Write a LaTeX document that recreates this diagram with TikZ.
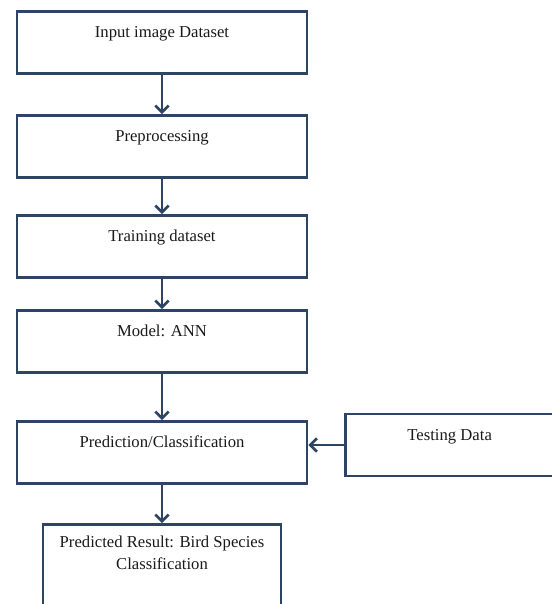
\documentclass[tikz,border=0pt]{standalone}
\usepackage{fontspec}
\setmainfont{Liberation Serif}
\usepackage{xcolor}
\usepackage{tikz}
\usetikzlibrary{arrows.meta,positioning}
\definecolor{boxblue}{RGB}{46,68,100}

\begin{document}
\begin{tikzpicture}[x=0.75pt, y=-0.75pt, auto]
    \tikzstyle{block} = [rectangle, draw=boxblue, line width=2pt, minimum width=217.5pt, minimum height=46.5pt, inner sep=4pt, text height=15.5pt, text depth=23pt, font=\fontsize{12.5}{16.5}\selectfont, text=black!90, align=center]
    \tikzstyle{arrow} = [draw=boxblue, line width=2pt, -{Straight Barb[length=5pt,width=10pt]}]

    \path [use as bounding box, clip] (0,0) rectangle (552,604);

    \node [block] (input) at (162,42.5) {Input image Dataset};
    \node [block, below=29.5pt of input] (prep) {Preprocessing};
    \node [block, below=26.5pt of prep] (train) {Training dataset};
    \node [block, below=22.75pt of train] (model) {Model: ANN};
    \node [block, below=34.75pt of model] (pred) {Prediction/Classification};
    \node [block, minimum width=156pt, right=27pt of pred, yshift=5.6pt] (test) {Testing Data};
    \node [block, minimum width=178.5pt, minimum height=90pt, text height=29.75pt, text depth=52.25pt, below=28.75pt of pred] (result) {Predicted Result: Bird Species\\Classification};

    \draw [arrow] (input) -- (prep);
    \draw [arrow] (prep) -- (train);
    \draw [arrow] (train) -- (model);
    \draw [arrow] (model) -- (pred);
    \draw [arrow] (test.west) -- (pred.east |- test.west);
    \draw [arrow] (pred) -- (result);

\end{tikzpicture}
\end{document}
